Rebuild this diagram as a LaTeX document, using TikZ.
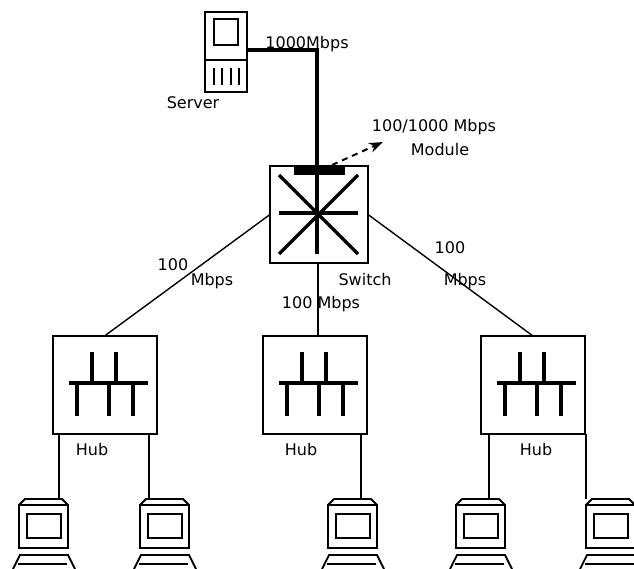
\documentclass[tikz,border=0pt]{standalone}
\usepackage{fontspec}
\setmainfont{DejaVu Sans}
\usetikzlibrary{arrows.meta}
\begin{document}
\begin{tikzpicture}[x=1pt,y=-1pt,
  thin box/.style={draw=black,line width=2pt,fill=white,inner sep=0pt,outer sep=0pt},
  hubbox/.style={thin box,minimum width=104pt,minimum height=98pt},
  heavy/.style={line width=3.6pt},
  bar/.style={line width=3.2pt},
  wire/.style={line width=2pt},
  slant/.style={line width=1.4pt},
  lab/.style={font=\fontsize{16pt}{18pt}\selectfont,text=black,inner sep=0pt}]
\useasboundingbox (0,0) rectangle (634,569);
\clip (0,0) rectangle (634,569);
% server
\node[thin box,minimum width=42pt,minimum height=80pt] (srv) at (226,52) {};
\node[thin box,minimum width=24pt,minimum height=26pt] (srvscreen) at (226,32) {};
\draw[line width=2pt] (srv.west |- 0,60) -- (srv.east |- 0,60);
\foreach \x in {214,222,231,239} \draw[line width=2pt] (\x,68) -- (\x,85);
\node[lab,anchor=center] (lserver) at (193,103) {Server};
% switch
\node[thin box,minimum width=98pt,minimum height=97pt] (sw) at (319,214.5) {};
\foreach \a/\b/\c/\d in {279/175/358/254,358/175/279/254,279/213/358/213,317/166/317/254}
  \draw[bar] (\a,\b) -- (\c,\d);
\node[fill=black,minimum width=51pt,minimum height=9pt,inner sep=0pt] (mod) at (319.5,171) {};
% backbone
\coordinate (bend) at (317,50);
\draw[heavy] (srv.east |- bend) -- (bend) -- (bend |- sw.north);
% hubs
\newcommand{\hubglyph}[1]{%
  \draw[bar] (#1+17,383) -- (#1+96,383);
  \foreach \u in {40,64} \draw[bar] (#1+\u,352) -- (#1+\u,383);
  \foreach \u in {25,57,81} \draw[bar] (#1+\u,383) -- (#1+\u,416);}
\node[hubbox] (hub1) at (104.5,385) {};
\node[hubbox] (hub2) at (315,385) {};
\node[hubbox] (hub3) at (533,385) {};
\hubglyph{52}\hubglyph{262}\hubglyph{480}
% PCs
\newcommand{\pcicon}[3]{% left x, name, drop x
  \coordinate (#2) at (#3,499);
  \draw[line width=1.8pt] (#1,505) -- (#1+6,499) -- (#1+43,499) -- (#1+49,505);
  \node[thin box,minimum width=49pt,minimum height=43pt,anchor=north west] at (#1,505) {};
  \node[thin box,minimum width=34pt,minimum height=24pt,anchor=north west] at (#1+7.5,514) {};
  \draw[line width=1.8pt] (#1-6,569) -- (#1+1,555) -- (#1+49,555) -- (#1+56,569);
  \draw[line width=1.8pt] (#1-1,564) -- (#1+48,564);}
\pcicon{19}{pc1}{59}
\pcicon{140}{pc2}{149}
\pcicon{328}{pc3}{361}
\pcicon{456}{pc4}{489}
\pcicon{586}{pc5}{586}
\draw[wire] (hub1.south -| pc1) -- (pc1);
\draw[wire] (hub1.south -| pc2) -- (pc2);
\draw[wire] (hub2.south -| pc3) -- (pc3);
\draw[wire] (hub3.south -| pc4) -- (pc4);
\draw[wire] (hub3.south -| pc5) -- (pc5);
% links
\draw[slant] (sw.west) -- (hub1.north);
\draw[slant] (sw.east) -- (hub3.north);
\draw[wire] (sw.south -| 318,0) -- (hub2.north -| 318,0);
% module arrow
\coordinate (arrowstart) at (332,165);
\coordinate (arrowend) at (383,142);
\draw[line width=2pt,dash pattern=on 6pt off 5pt,-{Stealth[length=14pt,width=10pt]}] (arrowstart) -- (arrowend);
% labels
\node[lab] (l1) at (307,44) {1000Mbps};
\node[lab] (l2) at (434,127) {100/1000 Mbps};
\node[lab] (l3) at (440,150) {Module};
\node[lab] (l4) at (173,265) {100};
\node[lab] (l5) at (212,281) {Mbps};
\node[lab] (l6) at (365,280) {Switch};
\node[lab] (l7) at (321,304) {100 Mbps};
\node[lab] (l8) at (450,248) {100};
\node[lab] (l9) at (465,281) {Mbps};
\node[lab] (h1) at (92,450) {Hub};
\node[lab] (h2) at (301,450) {Hub};
\node[lab] (h3) at (536,450) {Hub};
\end{tikzpicture}
\end{document}
